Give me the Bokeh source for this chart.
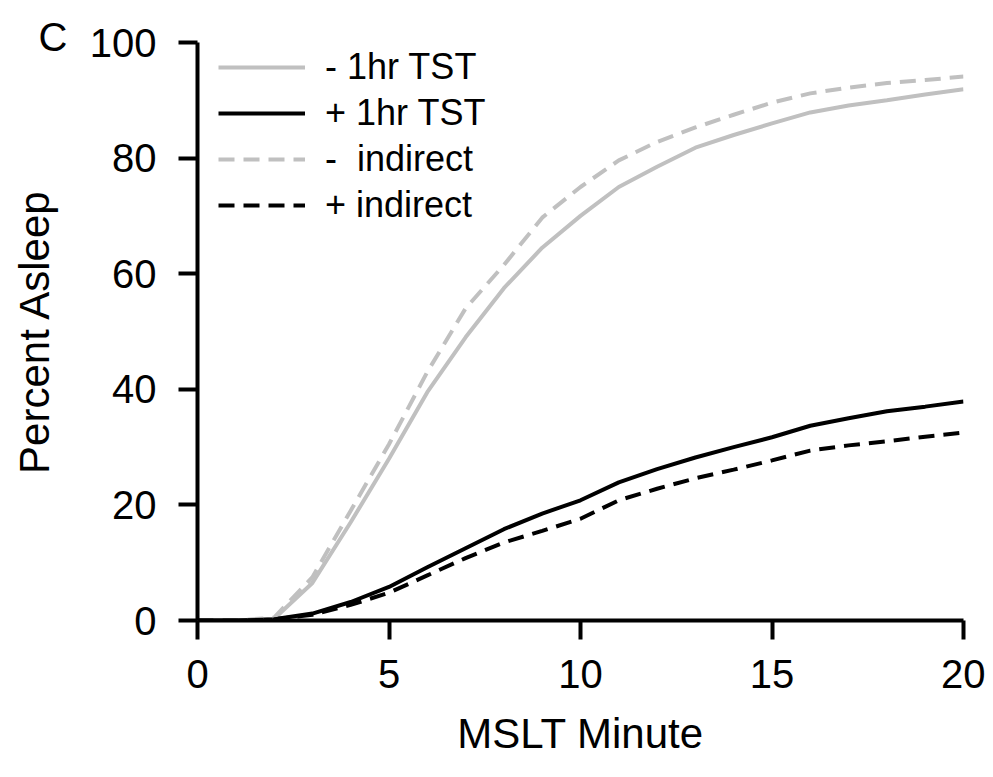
from bokeh.plotting import figure
from bokeh.models import Legend, LegendItem, Range1d, FixedTicker, Title
from bokeh.embed import file_html
from bokeh.resources import INLINE

minutes = list(range(0, 21))
minus_tst = [0, 0, 0.3, 6.5, 17, 28, 39.5, 49, 57.5, 64.5, 70, 75, 78.5, 81.8, 84, 86, 87.9, 89.1, 90, 91, 91.9]
plus_tst = [0, 0, 0.2, 1.2, 3.2, 5.8, 9.2, 12.5, 15.8, 18.5, 20.8, 23.9, 26.2, 28.2, 30, 31.7, 33.7, 35, 36.2, 37, 37.9]
minus_ind = [0, 0, 0.5, 7.5, 19, 30.5, 43, 54, 61.5, 69.7, 75, 79.6, 82.8, 85.3, 87.5, 89.6, 91.2, 92.2, 93, 93.5, 94.1]
plus_ind = [0, 0, 0.2, 1, 2.7, 4.8, 7.8, 10.8, 13.5, 15.5, 17.6, 20.8, 22.8, 24.6, 26.1, 27.7, 29.4, 30.3, 31, 31.8, 32.5]
labels = ["- 1hr TST", "+ 1hr TST", "-  indirect", "+ indirect"]
panel_letter = "C"
x_ticks = [0, 5, 10, 15, 20]
y_ticks = [0, 20, 40, 60, 80, 100]

GREY = "#c0c0c0"
FONT = "Liberation Sans"

p = figure(width=985, height=769, output_backend="svg", toolbar_location=None,
           x_range=Range1d(0, 20), y_range=Range1d(0, 100),
           min_border_left=197, min_border_right=22, min_border_top=42, min_border_bottom=149)
p.outline_line_color = None
p.xgrid.grid_line_color = None
p.ygrid.grid_line_color = None

r1 = p.line(minutes, minus_tst, line_color=GREY, line_width=4)
r2 = p.line(minutes, plus_tst, line_color="black", line_width=4)
r3 = p.line(minutes, minus_ind, line_color=GREY, line_width=4, line_dash="16 9")
r4 = p.line(minutes, plus_ind, line_color="black", line_width=4, line_dash="16 9")

for ax, ticks in ((p.xaxis[0], x_ticks), (p.yaxis[0], y_ticks)):
    ax.ticker = FixedTicker(ticks=ticks)
    ax.minor_tick_line_color = None
    ax.axis_line_width = 4
    ax.major_tick_line_width = 4
    ax.major_tick_out = 19
    ax.major_tick_in = 0
    ax.major_label_text_font = FONT
    ax.major_label_text_font_size = "40px"
    ax.major_label_text_color = "black"
    ax.axis_label_text_font = FONT
    ax.axis_label_text_font_size = "42px"
    ax.axis_label_text_font_style = "normal"
    ax.axis_label_text_color = "black"

p.xaxis.axis_label = "MSLT Minute"
p.yaxis.axis_label = "Percent Asleep"
p.xaxis.major_label_standoff = 20
p.yaxis.major_label_standoff = 22
p.xaxis.axis_label_standoff = 19
p.yaxis.axis_label_standoff = 29
p.yaxis.major_label_orientation = "horizontal"

legend = Legend(items=[LegendItem(label=labels[0], renderers=[r1]),
                       LegendItem(label=labels[1], renderers=[r2]),
                       LegendItem(label=labels[2], renderers=[r3]),
                       LegendItem(label=labels[3], renderers=[r4])],
                location=(21, 392), margin=0, padding=0, spacing=0,
                glyph_width=87, glyph_height=46, label_height=46, label_standoff=20,
                label_text_font=FONT, label_text_font_size="36px", label_text_color="black",
                border_line_alpha=0, background_fill_alpha=0)
p.add_layout(legend, "center")

try:
    letter = Title(text=panel_letter, align="left", offset=-159, vertical_align="bottom",
                   standoff=-33, text_font=FONT, text_font_size="40px",
                   text_font_style="normal", text_color="black")
except Exception:
    letter = Title(text=panel_letter, align="left", offset=-159, vertical_align="bottom",
                   standoff=0, text_font=FONT, text_font_size="34px",
                   text_font_style="normal", text_color="black")
p.add_layout(letter, "above")

open("out.html", "w").write(file_html(p, INLINE))
